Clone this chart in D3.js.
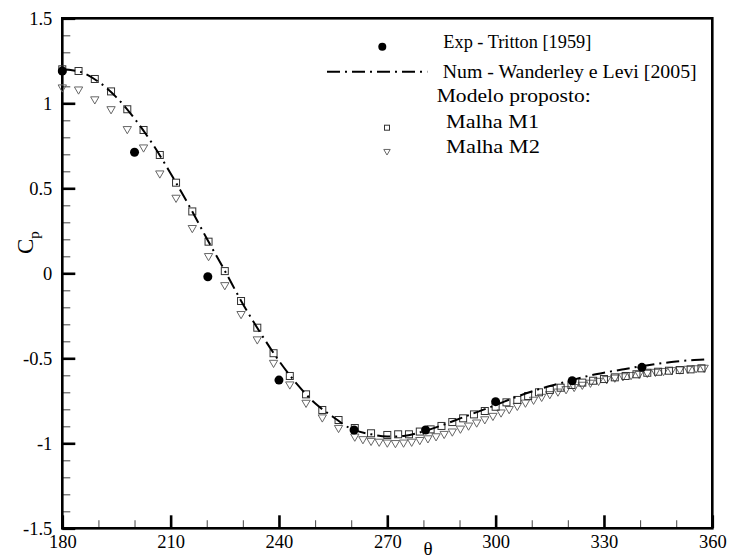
<!DOCTYPE html>
<html>
<head>
<meta charset="utf-8">
<script src="https://cdn.jsdelivr.net/npm/d3@7"></script>
<style>
  html, body { margin: 0; padding: 0; background: #fff; }
  svg { display: block; }
  svg text { font-family: "Liberation Serif", "DejaVu Serif", serif !important; fill: #000; }
</style>
</head>
<body>
<svg id="chart" width="731" height="560"></svg>
<script>
// Pressure coefficient around the cylinder, theta in degrees
const expTheta = [180, 200, 220.3, 240, 260.8, 280.6, 300, 321.2, 340.5];
const expCp    = [1.19, 0.712, -0.02, -0.628, -0.922, -0.922, -0.755, -0.632, -0.553];

const numTheta = [180, 185, 190, 195, 200, 205, 210, 215, 220, 225, 230, 235, 240, 245, 250, 255, 260, 265, 270,
                  275, 280, 285, 290, 295, 300, 305, 310, 315, 320, 325, 330, 335, 340, 345, 350, 355, 359];
const numCp    = [1.20, 1.185, 1.127, 1.035, 0.91, 0.761, 0.587, 0.402, 0.205, 0.015, -0.18, -0.355, -0.515, -0.652,
                  -0.765, -0.845, -0.915, -0.945, -0.96, -0.955, -0.93, -0.895, -0.855, -0.815, -0.775, -0.733, -0.695,
                  -0.663, -0.635, -0.607, -0.585, -0.566, -0.548, -0.532, -0.519, -0.510, -0.505];

const m1Theta = [180, 184.5, 189, 193.5, 198, 202.5, 207, 211.5, 216, 220.5, 225, 229.5, 234, 238.5, 243, 247.5,
                 252, 256.5, 261, 265.5, 270, 273, 276, 279, 282, 285, 288, 291, 294, 297, 300, 303, 306, 309, 312,
                 315, 318, 321, 324, 327, 330, 333, 336, 339, 342, 345, 348, 351, 354, 357];
const m1Cp    = [1.20, 1.19, 1.143, 1.07, 0.965, 0.843, 0.696, 0.533, 0.364, 0.186, 0.013, -0.163, -0.32, -0.47,
                 -0.604, -0.712, -0.804, -0.863, -0.91, -0.941, -0.951, -0.947, -0.947, -0.931, -0.918, -0.898,
                 -0.875, -0.853, -0.830, -0.810, -0.785, -0.759, -0.745, -0.722, -0.700, -0.686, -0.673, -0.657,
                 -0.643, -0.632, -0.622, -0.612, -0.604, -0.594, -0.585, -0.579, -0.573, -0.569, -0.565, -0.559];

const m2Theta = [180, 184.5, 189, 193.5, 198, 202.5, 207, 211.5, 216, 220.5, 225, 229.5, 234, 238.5, 243, 247.5,
                 252, 256.5, 261, 263.25, 265.5, 267.75, 270, 272.25, 274.5, 276.75, 279, 281.25, 283.5, 285.75,
                 288, 290.25, 292.5, 294.75, 297, 299.25, 301.5, 303.75, 306, 308.25, 310.5, 312.75, 315, 317.25,
                 319.5, 321.75, 324, 326.25, 328.5, 330.75, 333, 335.25, 337.5, 339.75, 342, 344.25, 346.5, 348.75,
                 351, 353.25, 355.5, 357.75];
const m2Cp    = [1.094, 1.082, 1.024, 0.966, 0.849, 0.741, 0.588, 0.445, 0.267, 0.102, -0.069, -0.239, -0.388,
                 -0.526, -0.653, -0.761, -0.847, -0.909, -0.96, -0.975, -0.985, -0.99, -0.995, -0.998, -0.995,
                 -0.99, -0.98, -0.97, -0.958, -0.944, -0.93, -0.913, -0.895, -0.877, -0.858, -0.838, -0.818, -0.798,
                 -0.779, -0.76, -0.743, -0.726, -0.71, -0.695, -0.681, -0.668, -0.655, -0.643, -0.632, -0.622,
                 -0.613, -0.605, -0.598, -0.591, -0.585, -0.579, -0.574, -0.569, -0.565, -0.561, -0.558, -0.555];

const xMajor = [180, 210, 240, 270, 300, 330, 360];
const xMinor = [190, 200, 220, 230, 250, 260, 280, 290, 310, 320, 340, 350];
const yMajor = [-1.5, -1, -0.5, 0, 0.5, 1, 1.5];
const yMinor = [-1.4, -1.3, -1.2, -1.1, -0.9, -0.8, -0.7, -0.6, -0.4, -0.3, -0.2, -0.1,
                0.1, 0.2, 0.3, 0.4, 0.6, 0.7, 0.8, 0.9, 1.1, 1.2, 1.3, 1.4];

const legendItems = ["Exp - Tritton [1959]", "Num - Wanderley e Levi [2005]", "Modelo proposto:", "Malha M1", "Malha M2"];

const serif = "'Liberation Serif', 'DejaVu Serif', serif";
const svg = d3.select("#chart").attr("font-family", serif);
const x = d3.scaleLinear().domain([180, 360]).range([62.3, 712.3]);
const y = d3.scaleLinear().domain([-1.5, 1.5]).range([528.3, 18.3]);

// axes: ticks point inward
const fmt = d => String(d);
const gx = svg.append("g").attr("transform", `translate(0,${y(-1.5)})`)
  .call(d3.axisBottom(x).tickValues(xMajor).tickSize(-13).tickPadding(7).tickFormat(fmt));
const gxm = svg.append("g").attr("transform", `translate(0,${y(-1.5)})`)
  .call(d3.axisBottom(x).tickValues(xMinor).tickSize(-8).tickFormat(""));
const gy = svg.append("g").attr("transform", `translate(${x(180)},0)`)
  .call(d3.axisLeft(y).tickValues(yMajor).tickSize(-13).tickPadding(10).tickFormat(fmt));
const gym = svg.append("g").attr("transform", `translate(${x(180)},0)`)
  .call(d3.axisLeft(y).tickValues(yMinor).tickSize(-8).tickFormat(""));

[gx, gxm, gy, gym].forEach(g => { g.select(".domain").remove(); g.attr("font-family", serif); });
[gx, gy].forEach(g => {
  g.selectAll(".tick line").attr("stroke", "#000").attr("stroke-width", 2.6);
  g.selectAll(".tick text").attr("font-size", 18.5).attr("fill", "#000");
});
[gxm, gym].forEach(g => g.selectAll(".tick line").attr("stroke", "#555").attr("stroke-width", 1.1));

// plot frame
svg.append("rect")
  .attr("x", x(180)).attr("y", y(1.5))
  .attr("width", x(360) - x(180)).attr("height", y(-1.5) - y(1.5))
  .attr("fill", "none").attr("stroke", "#000").attr("stroke-width", 2.6);

// axis titles
const yt = svg.append("text").attr("transform", "translate(33,254) rotate(-90)").attr("font-size", 23);
yt.append("tspan").text("C");
yt.append("tspan").attr("font-size", 15).attr("dy", 6).text("p");
svg.append("text").attr("x", 428).attr("y", 555).attr("text-anchor", "middle").attr("font-size", 19).text("θ");

const plot = svg.append("g");

// Malha M2 (triangles)
const tri = d3.symbol().type(d3.symbolTriangle).size(30);
plot.selectAll("path.m2").data(m2Theta.map((t, i) => [t, m2Cp[i]])).enter().append("path")
  .attr("class", "m2")
  .attr("d", tri)
  .attr("transform", d => `translate(${x(d[0])},${y(d[1])}) rotate(180)`)
  .attr("fill", "none").attr("stroke", "#666").attr("stroke-width", 1);

// Malha M1 (squares)
plot.selectAll("rect.m1").data(m1Theta.map((t, i) => [t, m1Cp[i]])).enter().append("rect")
  .attr("class", "m1")
  .attr("x", d => x(d[0]) - 3.5).attr("y", d => y(d[1]) - 3.5)
  .attr("width", 7).attr("height", 7)
  .attr("fill", "none").attr("stroke", "#333").attr("stroke-width", 1);

// Wanderley & Levi numerical curve
const line = d3.line().x(d => x(d[0])).y(d => y(d[1])).curve(d3.curveCatmullRom);
plot.append("path")
  .datum(numTheta.map((t, i) => [t, numCp[i]]))
  .attr("d", line)
  .attr("fill", "none").attr("stroke", "#000").attr("stroke-width", 2)
  .attr("stroke-dasharray", "13,5,2,5");

// Tritton experiments
plot.selectAll("circle.exp").data(expTheta.map((t, i) => [t, expCp[i]])).enter().append("circle")
  .attr("class", "exp")
  .attr("cx", d => x(d[0])).attr("cy", d => y(d[1])).attr("r", 4.5)
  .attr("fill", "#000");

// legend
const lg = svg.append("g");
lg.append("circle").attr("cx", 382.3).attr("cy", 46.7).attr("r", 4).attr("fill", "#000");
lg.append("line").attr("x1", 327).attr("x2", 427.3).attr("y1", 71.7).attr("y2", 71.7)
  .attr("stroke", "#000").attr("stroke-width", 2).attr("stroke-dasharray", "13,5,2,5");
lg.append("rect").attr("x", 384.5).attr("y", 125.2).attr("width", 5).attr("height", 5)
  .attr("fill", "none").attr("stroke", "#333").attr("stroke-width", 1);
lg.append("path").attr("d", d3.symbol().type(d3.symbolTriangle).size(18))
  .attr("transform", "translate(387,151.3) rotate(180)")
  .attr("fill", "none").attr("stroke", "#666").attr("stroke-width", 1);

// legend text: left edge, baseline and rendered width of each entry
const legendPos = [[443.3, 48, 148], [442.7, 77.5, 254], [436.7, 101.5, 154], [446, 127.5, 93], [446, 152.5, 94]];
legendItems.forEach((t, i) => {
  lg.append("text").attr("x", legendPos[i][0]).attr("y", legendPos[i][1]).attr("font-size", 19.5)
    .attr("textLength", legendPos[i][2]).attr("lengthAdjust", "spacingAndGlyphs").text(t);
});
</script>
</body>
</html>
